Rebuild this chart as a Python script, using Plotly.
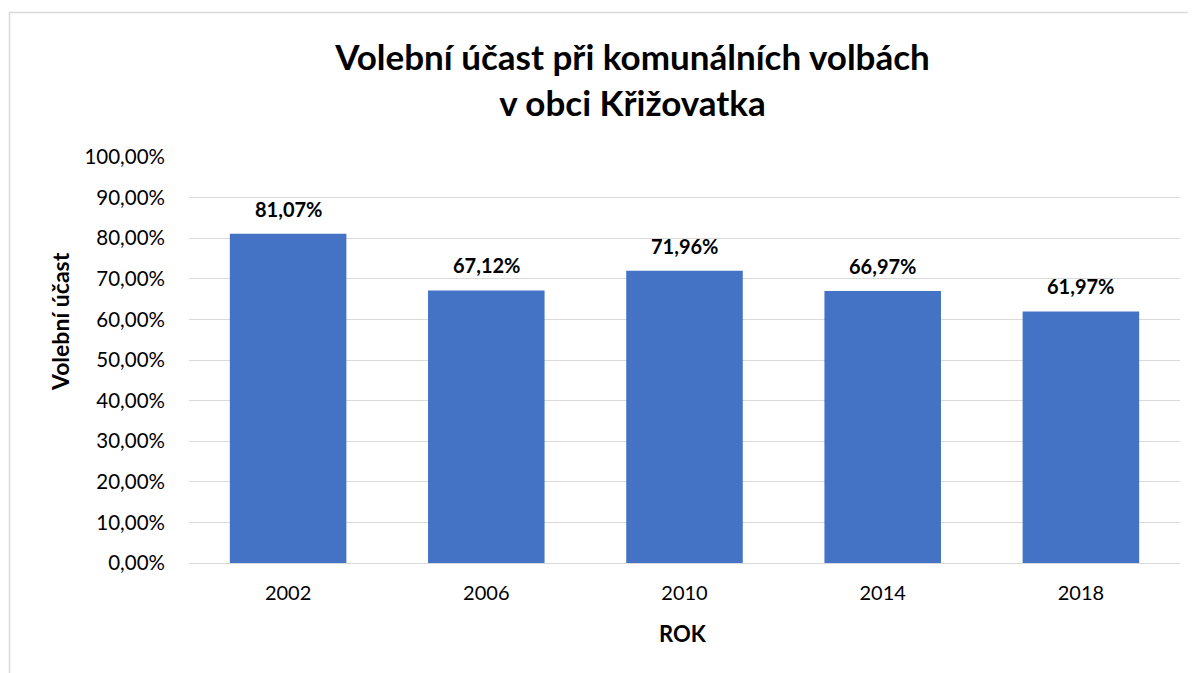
import plotly.graph_objects as go

years = ["2002", "2006", "2010", "2014", "2018"]
turnout = [81.07, 67.12, 71.96, 66.97, 61.97]
tick_vals = [0, 10, 20, 30, 40, 50, 60, 70, 80, 90, 100]
tick_text = [f"{v},00%" for v in tick_vals]
label_text = [f"<b>{v:.2f}%</b>".replace(".", ",") for v in turnout]

FONT = "Lato"
W, H = 1196, 673
OFF = 8  # page body margin
ML, MR, MT, MB = 189 - OFF, 24, 157 - OFF, 118
pw, ph = W - ML - MR, H - MT - MB

fig = go.Figure()
fig.add_trace(go.Bar(
    x=years, y=turnout,
    marker=dict(color="#4472C4", line=dict(width=0)),
    width=0.588,
    hoverinfo="skip",
))

for i, (v, t) in enumerate(zip(turnout, label_text)):
    fig.add_annotation(
        x=i, y=v, text=t, showarrow=False,
        xanchor="center", yanchor="bottom", yshift=11,
        font=dict(family=FONT, size=20, color="#000000"),
    )

fig.update_layout(
    width=W, height=H,
    margin=dict(l=ML, r=MR, t=MT, b=MB),
    paper_bgcolor="white", plot_bgcolor="white",
    showlegend=False,
    font=dict(family=FONT, color="#000000"),
    title=dict(
        text="<b>Volební účast při komunálních volbách<br>v obci Křižovatka</b>",
        x=(632.5 - OFF) / W, xanchor="center", xref="container",
        y=1 - 62 / H, yanchor="top", yref="container",
        font=dict(family=FONT, size=35, color="#000000"),
    ),
    xaxis=dict(
        type="category", categoryorder="array", categoryarray=years,
        range=[-0.5, len(years) - 0.5],
        showgrid=False, showline=False, ticks="",
        tickfont=dict(family=FONT, size=20, color="#000000"),
        ticklabelstandoff=16,
    ),
    yaxis=dict(
        range=[0, 100], tickvals=tick_vals, ticktext=tick_text,
        showgrid=True, gridcolor="#d9d9d9", gridwidth=1,
        zeroline=True, zerolinecolor="#d9d9d9", zerolinewidth=1,
        showline=False, ticks="",
        tickfont=dict(family=FONT, size=20.5, color="#000000"),
        ticklabelstandoff=23,
    ),
)

fig.add_annotation(
    text="<b>Volební účast</b>", textangle=-90,
    xref="paper", yref="paper",
    x=(60 - OFF - ML) / pw, y=(H - MB - (322 - OFF)) / ph,
    xanchor="center", yanchor="middle", showarrow=False,
    font=dict(family=FONT, size=23, color="#000000"),
)
fig.add_annotation(
    text="<b>ROK</b>",
    xref="paper", yref="paper",
    x=(683 - OFF - ML) / pw, y=(H - MB - (633 - OFF)) / ph,
    xanchor="center", yanchor="middle", showarrow=False,
    font=dict(family=FONT, size=22, color="#000000"),
)

fig.add_shape(
    type="rect", xref="paper", yref="paper",
    x0=(9.5 - OFF - ML) / pw, x1=(W + 20 - ML) / pw,
    y0=(H - MB - (H + 20)) / ph, y1=(H - MB - (12.5 - OFF)) / ph,
    line=dict(color="#d9d9d9", width=1.5), fillcolor="rgba(0,0,0,0)",
    layer="below",
)

fig.write_html("out.html")
